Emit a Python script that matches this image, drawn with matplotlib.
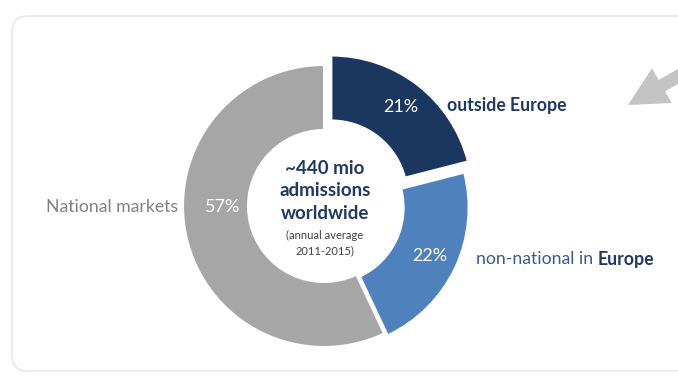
import matplotlib
matplotlib.use("Agg")
import matplotlib.pyplot as plt
from matplotlib.patches import FancyBboxPatch, FancyArrow

plt.rcParams["font.family"] = ["Lato", "DejaVu Sans"]

# Anteile der Kinobesuche (Ring, im Uhrzeigersinn ab 12 Uhr)
segmente = ["outside Europe", "non-national in Europe", "National markets"]
anteile = [21, 22, 57]
farben = ["#1b375f", "#4f81bd", "#a6a6a6"]
explode = [12, 4, 0]  # Versatz in Pixeln

gesamt_titel = "~440 mio\nadmissions\nworldwide"
gesamt_info = "(annual average\n2011-2015)"

NAVY = "#1f3864"

fig = plt.figure(figsize=(6.78, 3.76), dpi=100)
ax = fig.add_axes([0, 0, 1, 1])

# Karte mit abgerundeten Ecken
karte = FancyBboxPatch((12, 16), 700, 355, boxstyle="round,pad=0,rounding_size=16",
                       facecolor="white", edgecolor="#e8e8e8", linewidth=1.2, zorder=0)
ax.add_patch(karte)

mitte = (324, 206)
radius = 141
wedges, texts, autotexts = ax.pie(
    anteile,
    colors=farben,
    explode=explode,
    startangle=-90,
    counterclock=True,
    center=mitte,
    radius=radius,
    autopct=lambda p: f"{p:.0f}%",
    pctdistance=0.8,
    wedgeprops=dict(width=65, edgecolor="white", linewidth=1.5),
    textprops=dict(color="white", fontsize=13),
    frame=True,
)
ax.set_xlim(0, 678)
ax.set_ylim(376, 0)
ax.set_aspect("equal")
ax.axis("off")

# 57 % sitzt links auf Höhe der Mitte
autotexts[2].set_position((mitte[0] - 101, mitte[1] + 1))

# Beschriftungen außen
ax.text(447, 106, segmente[0], color=NAVY, fontsize=12.7, fontweight="bold",
        ha="left", va="center")
t = ax.text(476, 259, "non-national in ", color="#3b5b8a", fontsize=12.7,
            ha="left", va="center")
fig.canvas.draw()
bb = t.get_window_extent().transformed(ax.transData.inverted())
ax.text(bb.x1, 259, "Europe", color=NAVY, fontsize=12.7, fontweight="bold",
        ha="left", va="center")
ax.text(178, 207, segmente[2], color="#808080", fontsize=12.7, ha="right", va="center")

# Summe in der Mitte
ax.text(mitte[0] + 1, 191, gesamt_titel, color=NAVY, fontsize=13.5, fontweight="bold",
        ha="center", va="center", linespacing=1.4)
ax.text(mitte[0] + 1, 243, gesamt_info, color="#404040", fontsize=8,
        ha="center", va="center", linespacing=1.45)

# grauer Hinweispfeil oben rechts
ax.add_patch(FancyArrow(698, 65, -70, 40, width=13, head_width=40, head_length=39,
                        length_includes_head=True, color="#c4c4c4", linewidth=0))

fig.savefig("out.png", dpi=100)
